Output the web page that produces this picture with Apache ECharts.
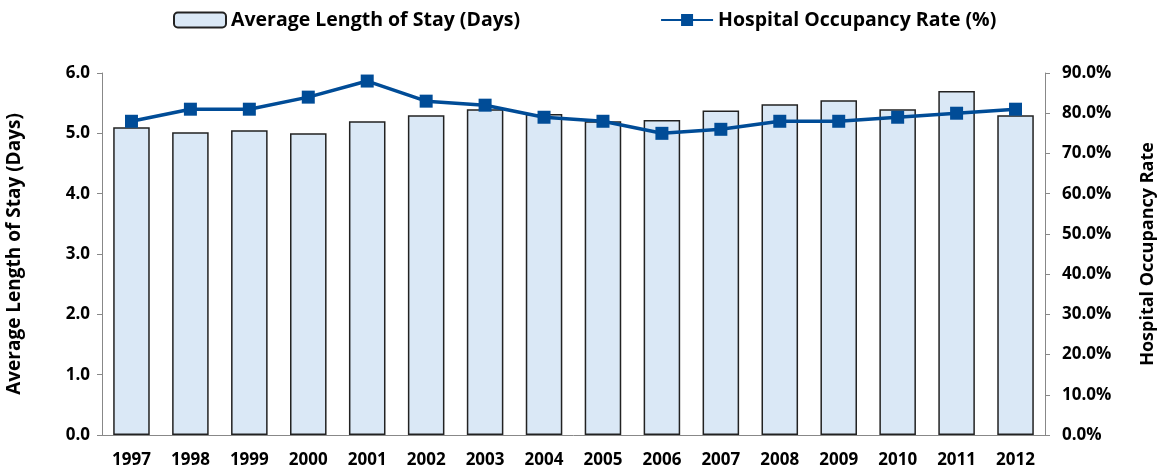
<!DOCTYPE html>
<html><head><meta charset="utf-8">
<script src="https://cdn.jsdelivr.net/npm/echarts@6/dist/echarts.min.js"></script>
<style>html,body{margin:0;padding:0;background:#fff}#c{width:1158px;height:473px}</style>
</head><body><div id="c"></div>
<script>
const years = ['1997','1998','1999','2000','2001','2002','2003','2004','2005','2006','2007','2008','2009','2010','2011','2012'];
const stayDays = [5.1,5.02,5.05,5.0,5.2,5.3,5.4,5.32,5.2,5.22,5.38,5.48,5.55,5.4,5.7,5.3];
const occupancy = [78,81,81,84,88,83,82,79,78,75,76,78,78,79,80,81];
const FONT = 'Open Sans';
const chart = echarts.init(document.getElementById('c'), null, {renderer:'canvas'});
chart.setOption({
  animation:false,
  textStyle:{fontFamily:FONT},
  legend:{
    top:5, left:168, itemGap:140, itemWidth:52, itemHeight:15, itemTextGap:6,
    textStyle:{fontFamily:FONT,fontWeight:'bold',fontSize:19.5,color:'#000'},
    data:[{name:'Average Length of Stay (Days)'},{name:'Hospital Occupancy Rate (%)'}]
  },
  grid:{left:102,right:113,top:73,bottom:38,containLabel:false,outerBoundsMode:'none'},
  xAxis:{
    type:'category', data:years,
    axisLine:{lineStyle:{color:'#888',width:1}},
    axisTick:{show:false},
    axisLabel:{fontFamily:FONT,fontWeight:'bold',fontSize:17,color:'#000',margin:17}
  },
  yAxis:[{
    type:'value', min:0, max:6, interval:1, position:'left',
    name:'Average Length of Stay (Days)', nameLocation:'middle', nameGap:78, nameRotate:90,
    nameTextStyle:{fontFamily:FONT,fontWeight:'bold',fontSize:19,color:'#000'},
    axisLine:{show:true,lineStyle:{color:'#888'}},
    axisTick:{show:true,length:5,lineStyle:{color:'#888'}},
    splitLine:{show:false},
    axisLabel:{fontFamily:FONT,fontWeight:'bold',fontSize:17,color:'#000',margin:12,formatter:v=>v.toFixed(1)}
  },{
    type:'value', min:0, max:90, interval:10, position:'right',
    name:'Hospital Occupancy Rate', nameLocation:'middle', nameGap:94, nameRotate:90,
    nameTextStyle:{fontFamily:FONT,fontWeight:'bold',fontSize:18,color:'#000'},
    axisLine:{show:true,lineStyle:{color:'#888'}},
    axisTick:{show:true,length:5,lineStyle:{color:'#888'}},
    splitLine:{show:false},
    axisLabel:{fontFamily:FONT,fontWeight:'bold',fontSize:17,color:'#000',margin:17,formatter:v=>v.toFixed(1)+'%'}
  }],
  series:[{
    name:'Average Length of Stay (Days)', type:'bar', yAxisIndex:0, data:stayDays,
    barCategoryGap:'38%',
    itemStyle:{color:'#DAE8F6',borderColor:'#222',borderWidth:1.5}
  },{
    name:'Hospital Occupancy Rate (%)', type:'line', yAxisIndex:1, data:occupancy,
    symbol:'rect', symbolSize:13,
    lineStyle:{color:'#004C97',width:3.5},
    itemStyle:{color:'#004C97'}
  }]
});
</script></body></html>
